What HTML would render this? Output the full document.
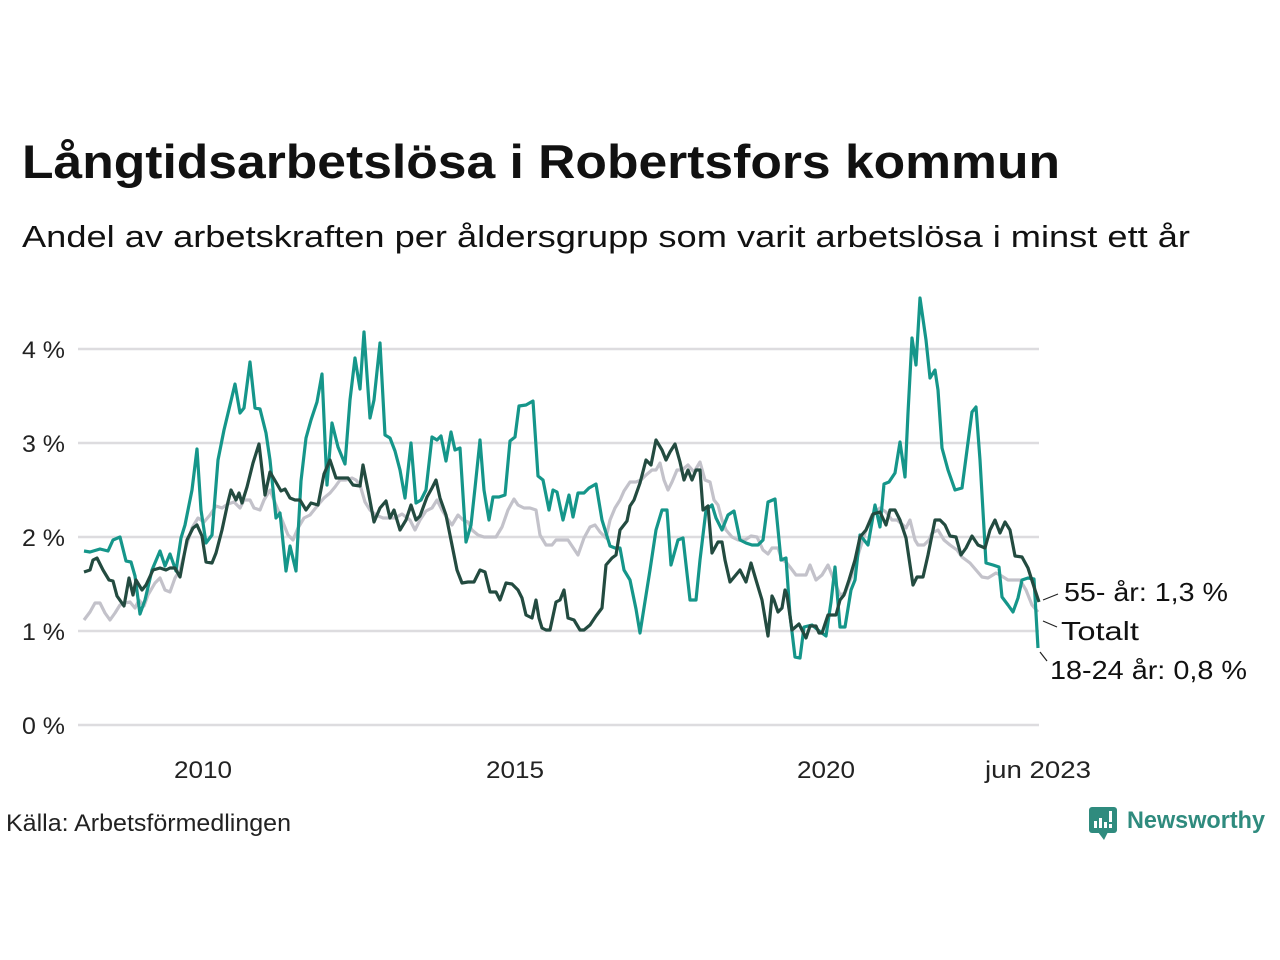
<!DOCTYPE html>
<html><head><meta charset="utf-8"><style>
html,body{margin:0;padding:0;background:#fff;}
svg{display:block;font-family:"Liberation Sans",sans-serif;}
</style></head><body>
<svg width="1280" height="960" viewBox="0 0 1280 960" xmlns="http://www.w3.org/2000/svg">
<rect width="1280" height="960" fill="#fff"/>
<text x="22" y="178" font-size="47" font-weight="bold" fill="#111" textLength="1038" lengthAdjust="spacingAndGlyphs">Långtidsarbetslösa i Robertsfors kommun</text>
<text x="22" y="247" font-size="31" fill="#111" textLength="1168" lengthAdjust="spacingAndGlyphs">Andel av arbetskraften per åldersgrupp som varit arbetslösa i minst ett år</text>
<g stroke="#dddcdf" stroke-width="2.5">
<line x1="78" y1="349" x2="1039" y2="349"/><line x1="78" y1="443" x2="1039" y2="443"/><line x1="78" y1="537" x2="1039" y2="537"/><line x1="78" y1="631" x2="1039" y2="631"/><line x1="78" y1="725" x2="1039" y2="725"/>
</g>
<g font-size="24" fill="#222">
<text x="22" y="358" textLength="43" lengthAdjust="spacingAndGlyphs">4 %</text><text x="22" y="452" textLength="43" lengthAdjust="spacingAndGlyphs">3 %</text><text x="22" y="546" textLength="43" lengthAdjust="spacingAndGlyphs">2 %</text><text x="22" y="640" textLength="43" lengthAdjust="spacingAndGlyphs">1 %</text><text x="22" y="734" textLength="43" lengthAdjust="spacingAndGlyphs">0 %</text>
<text x="174" y="778" textLength="58" lengthAdjust="spacingAndGlyphs">2010</text><text x="486" y="778" textLength="58" lengthAdjust="spacingAndGlyphs">2015</text><text x="797" y="778" textLength="58" lengthAdjust="spacingAndGlyphs">2020</text><text x="985" y="778" textLength="106" lengthAdjust="spacingAndGlyphs">jun 2023</text>
<text x="6" y="831" textLength="285" lengthAdjust="spacingAndGlyphs">Källa: Arbetsförmedlingen</text>
</g>
<g fill="none" stroke-width="3.2" stroke-linejoin="round">
<polyline stroke="#c3c2ca" points="84,620 90,612 95,603 100,603 105,613 110,620 115,613 120,605 125,603 130,602 135,608 139,600 144,606 148,595 155,583 160,578 165,590 170,592 175,578 180,570 186,547 192,528 198,518 204,522 210,515 216,506 222,508 228,504 234,502 240,508 244,500 250,500 254,508 260,510 264,500 270,490 276,505 282,520 288,535 293,540 298,528 304,518 310,515 318,505 324,498 330,493 335,487 340,480 346,480 352,478 356,480 360,485 365,502 370,510 376,515 383,518 390,518 395,518 402,514 410,520 415,530 420,520 426,511 432,508 437,500 442,510 447,518 452,525 458,515 463,520 468,522 472,530 478,535 484,537 490,537 496,537 502,527 508,510 514,499 518,505 524,508 530,508 536,510 540,535 546,545 552,545 556,540 562,540 568,540 572,546 578,555 584,538 590,527 595,525 600,532 606,538 610,520 615,508 620,500 624,491 630,482 636,482 641,480 646,475 652,470 656,470 660,463 664,480 668,490 672,482 677,470 682,470 688,465 694,472 700,462 705,480 710,482 714,500 718,505 722,520 726,530 732,537 738,540 745,540 751,536 757,537 763,550 768,554 772,548 778,548 782,560 786,562 790,567 796,575 800,575 806,575 810,565 816,580 822,575 828,565 832,575 840,595 845,593 851,578 858,555 866,530 872,515 880,508 886,512 892,520 897,520 903,525 906,528 910,520 915,540 918,545 924,545 929,540 932,533 938,530 944,540 950,545 957,550 962,557 970,563 976,570 982,577 988,578 996,573 1000,575 1008,580 1014,580 1020,580 1026,590 1032,605 1038,612"/>
<polyline stroke="#15968a" points="84,551 90,552 100,549 108,551 113,540 120,537 126,561 131,562 135,576 140,614 145,600 152,570 160,551 165,566 170,554 176,571 181,538 185,525 192,490 197,449 201,510 206,543 212,535 218,460 224,430 230,405 235,384 240,413 244,408 250,362 255,408 260,409 266,433 270,460 276,518 280,513 286,571 290,546 296,571 301,481 306,438 311,420 317,402 322,374 327,485 332,423 338,447 345,464 350,400 355,358 360,389 364,332 370,418 374,400 380,343 385,435 390,438 395,451 400,470 405,498 411,443 416,503 421,500 426,490 432,437 437,440 441,436 446,461 451,432 455,450 460,448 466,542 471,525 475,488 480,440 484,490 489,520 493,497 499,497 505,495 510,441 515,437 519,406 526,405 533,401 538,476 543,480 549,510 553,490 557,492 563,520 569,495 573,517 578,493 584,493 589,488 596,484 602,520 610,546 615,548 620,548 624,570 630,580 636,609 640,633 650,570 656,530 662,510 667,510 671,565 678,540 683,538 690,600 696,600 700,560 706,510 712,505 716,518 722,530 728,515 734,511 740,540 746,543 752,545 758,545 763,540 768,502 775,499 781,560 786,558 790,615 795,657 800,658 804,627 812,625 818,630 826,636 831,602 835,567 840,627 845,627 851,590 855,580 860,535 864,540 868,545 875,505 880,527 884,484 889,482 895,473 900,442 905,477 908,413 912,338 916,365 920,298 926,340 930,378 935,370 938,390 942,448 948,470 955,490 962,488 972,412 976,407 980,460 986,563 993,565 999,567 1002,597 1008,605 1013,612 1018,598 1022,580 1028,578 1034,579 1038,648"/>
<polyline stroke="#234b40" points="84,572 90,570 93,560 97,558 103,570 109,580 113,581 117,596 124,606 129,578 133,595 136,580 142,590 146,585 153,570 160,568 166,570 170,568 175,568 180,577 187,540 193,528 197,525 202,536 206,562 212,563 216,553 222,530 228,502 231,490 236,500 239,493 242,503 247,487 253,463 259,444 265,495 270,472 277,484 281,491 285,489 290,498 295,500 300,500 306,510 311,503 318,505 324,474 330,460 336,478 342,478 348,478 353,485 360,486 363,465 368,490 374,522 380,508 386,501 390,518 394,510 400,530 406,520 411,505 416,520 420,516 427,497 432,488 436,480 440,498 446,515 451,540 457,570 462,583 468,582 474,582 480,570 485,572 490,592 496,592 500,600 506,583 512,584 518,590 522,598 526,615 532,618 536,600 539,618 542,628 546,630 550,630 556,602 560,600 564,590 568,618 574,620 580,630 584,630 590,625 596,616 602,608 606,565 612,558 616,555 620,530 627,521 630,506 634,500 640,483 646,460 651,465 656,440 662,450 666,460 670,452 675,444 680,462 684,480 688,470 692,480 696,470 700,470 703,510 708,506 712,553 718,542 722,542 725,560 730,582 735,576 740,570 746,582 751,563 756,580 762,600 768,636 772,596 774,600 778,612 782,608 785,590 787,595 792,630 799,624 806,638 810,626 816,626 819,633 822,633 828,615 836,615 840,600 844,595 849,580 855,560 860,537 866,530 873,514 880,512 886,525 890,510 895,510 900,520 906,538 913,585 917,577 923,577 928,555 935,520 940,520 945,525 950,536 956,537 961,555 966,548 972,536 978,545 985,548 990,530 995,520 1000,533 1005,522 1010,530 1015,556 1022,557 1028,568 1035,590 1039,602"/>
</g>
<g stroke="#222" stroke-width="1.2">
<line x1="1043" y1="600" x2="1058" y2="594"/><line x1="1043" y1="621" x2="1057" y2="627"/><line x1="1040" y1="652" x2="1047" y2="661"/>
</g>
<g font-size="26" fill="#111">
<text x="1064" y="601" textLength="164" lengthAdjust="spacingAndGlyphs">55- år: 1,3 %</text>
<text x="1061" y="640" textLength="78" lengthAdjust="spacingAndGlyphs">Totalt</text>
<text x="1050" y="679" textLength="197" lengthAdjust="spacingAndGlyphs">18-24 år: 0,8 %</text>
</g>
<g>
<rect x="1089" y="807" width="28" height="26" rx="3" fill="#2f8b7e"/>
<polygon points="1098,832 1104,840 1108,832" fill="#2f8b7e"/>
<rect x="1094" y="821" width="3" height="7" fill="#fff"/><rect x="1099" y="818" width="3" height="10" fill="#fff"/><rect x="1104" y="822" width="3" height="6" fill="#fff"/><rect x="1109" y="811" width="3" height="11" fill="#fff"/><rect x="1109" y="824" width="3" height="4" fill="#fff"/>
<text x="1127" y="828" font-size="24" font-weight="bold" fill="#2f8b7e" textLength="138" lengthAdjust="spacingAndGlyphs">Newsworthy</text>
</g>
</svg>
</body></html>
